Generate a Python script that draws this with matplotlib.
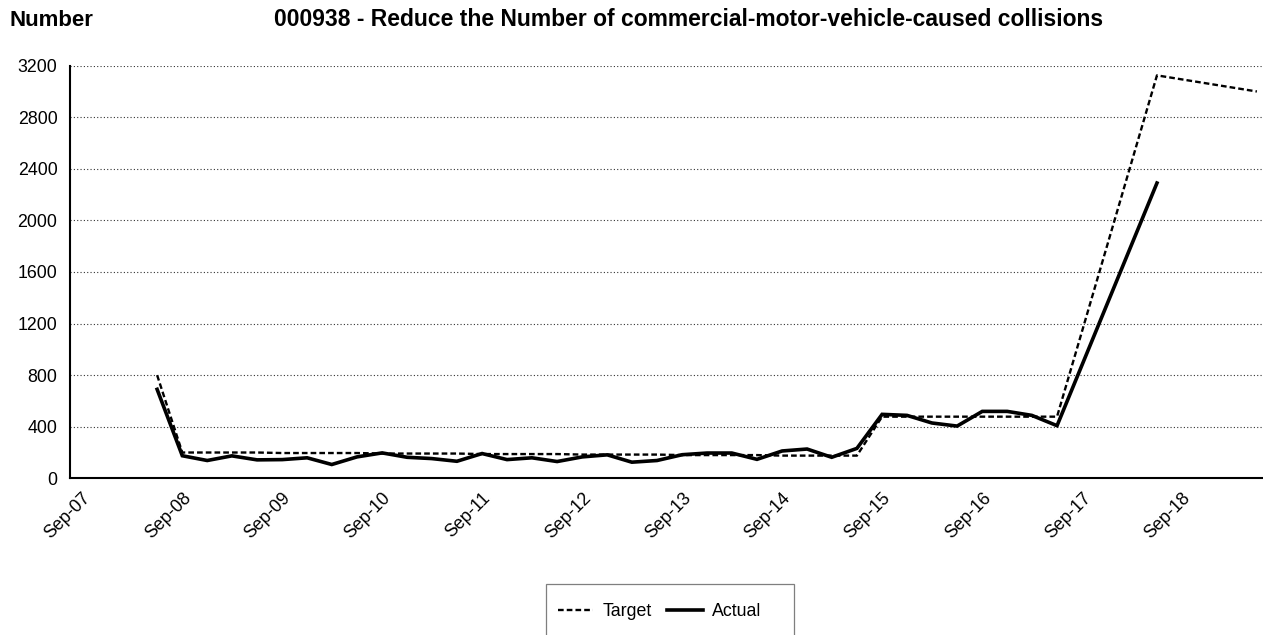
import matplotlib
matplotlib.use("Agg")
import matplotlib.pyplot as plt
import matplotlib.dates as mdates
from matplotlib.patches import Rectangle
import pandas as pd
from datetime import datetime

plt.rcParams['font.family'] = ['Liberation Sans', 'DejaVu Sans']

# ---- data ----
actual_dates = list(pd.date_range('2008-06-01', '2017-06-01', freq='3MS')) + [pd.Timestamp('2018-06-01')]
actual_values = [690, 175, 138, 174, 143, 145, 159, 107, 166, 197, 163, 153, 132,
                 192, 145, 159, 130, 166, 182, 125, 138, 183, 196, 196, 147,
                 212, 227, 163, 232, 496, 488, 429, 405, 519, 519, 488, 408,
                 2290]

target_dates = list(pd.date_range('2008-06-01', '2017-06-01', freq='3MS')) + \
    [pd.Timestamp('2018-06-01'), pd.Timestamp('2019-06-01')]
target_values = [800, 200, 200, 200, 200, 196, 196, 196, 196, 192, 192, 192, 192,
                 188, 188, 188, 188, 184, 184, 184, 184, 180, 180, 180, 180,
                 176, 176, 176, 176, 478, 478, 478, 478, 478, 478, 478, 478,
                 3125, 3000]

tick_dates = [datetime(y, 9, 1) for y in range(2007, 2019)]
tick_labels = [d.strftime('Sep-%y') for d in tick_dates]
y_ticks = [0, 400, 800, 1200, 1600, 2000, 2400, 2800, 3200]

title_left = 'Number'
title_main = '000938 - Reduce the Number of commercial-motor-vehicle-caused collisions'

# ---- figure ----
W, H = 1263, 635
fig = plt.figure(figsize=(W / 100, H / 100), dpi=100)
ax = fig.add_axes([70 / W, (H - 478.3) / H, (W - 70) / W, (478.3 - 65.7) / H])

ln_t, = ax.plot(target_dates, target_values, color='black', lw=1.7,
                linestyle=(0, (2.4, 1.3)), label='Target', zorder=3)
ln_a, = ax.plot(actual_dates, actual_values, color='black', lw=2.6,
                solid_joinstyle='miter', label='Actual', zorder=4)

ref = mdates.date2num(datetime(2008, 9, 1))
ax.set_xlim(ref - 410.2, ref + 3947.3)
ax.set_ylim(0, 3200)

ax.set_yticks(y_ticks)
ax.set_yticklabels([str(v) for v in y_ticks])
ax.set_xticks(mdates.date2num(tick_dates))
ax.set_xticklabels(tick_labels, rotation=45, ha='right', va='top', rotation_mode='anchor')
ax.tick_params(axis='both', length=0, labelsize=12.8, colors='black')
ax.tick_params(axis='y', pad=9)
ax.tick_params(axis='x', pad=8)

ax.yaxis.grid(True, linestyle=(0, (1, 2)), color='#333333', lw=0.8)
ax.set_axisbelow(True)
for s in ['top', 'right']:
    ax.spines[s].set_visible(False)
for s in ['left', 'bottom']:
    ax.spines[s].set_linewidth(1.5)
    ax.spines[s].set_color('black')

fig.text(10 / W, 1 - 26 / H, title_left, fontsize=16, fontweight='bold', ha='left', va='baseline')
fig.text(689 / W, 1 - 26 / H, title_main, fontsize=16.5, fontweight='bold', ha='center', va='baseline')

# legend box (cut off at bottom)
fig.add_artist(Rectangle((545.7 / W, (H - 642) / H), (794 - 545.7) / W, (642 - 584.3) / H,
                         transform=fig.transFigure, fill=False, edgecolor='#7f7f7f', lw=0.9))
fig.legend([ln_t, ln_a], ['Target', 'Actual'], loc='center',
           bbox_to_anchor=(659.5 / W, 1 - 611.7 / H), ncol=2, frameon=False,
           fontsize=12.8, handlelength=2.0, handletextpad=0.5, columnspacing=0.9)

fig.savefig('out.png', dpi=100)
